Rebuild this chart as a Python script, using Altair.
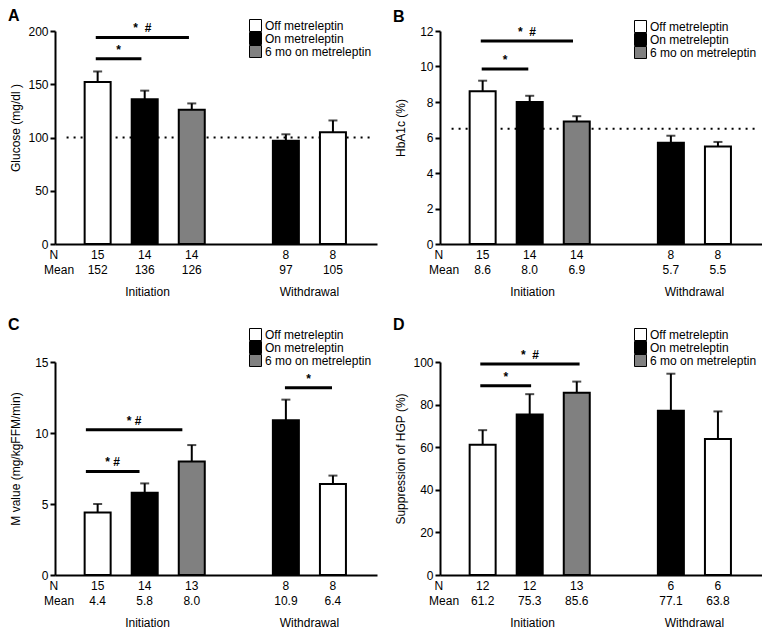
import altair as alt
import pandas as pd

# ---------------- data ----------------
GROUPS = ["Off metreleptin", "On metreleptin", "6 mo on metreleptin"]
FILLS = ["white", "black", "#808080"]

bar_group = ["Off metreleptin", "On metreleptin", "6 mo on metreleptin",
             "On metreleptin", "Off metreleptin"]
bar_phase = ["Initiation", "Initiation", "Initiation", "Withdrawal", "Withdrawal"]
phases = ["Initiation", "Withdrawal"]

glucose_mean = [152, 136, 126, 97, 105]
glucose_top = [162, 144, 132, 103, 116]
glucose_n = [15, 14, 14, 8, 8]

hba1c_mean = [8.6, 8.0, 6.9, 5.7, 5.5]
hba1c_top = [9.2, 8.35, 7.2, 6.1, 5.75]
hba1c_n = [15, 14, 14, 8, 8]

mvalue_mean = [4.4, 5.8, 8.0, 10.9, 6.4]
mvalue_top = [5.0, 6.45, 9.15, 12.35, 7.0]
mvalue_n = [15, 14, 13, 8, 8]

hgp_mean = [61.2, 75.3, 85.6, 77.1, 63.8]
hgp_top = [68.0, 84.9, 90.8, 94.5, 76.8]
hgp_n = [12, 12, 13, 6, 6]

SP2 = "\u00a0\u00a0"
SP1 = "\u00a0"
# significance brackets: (start, end, height, label)
glucose_sig = [(-0.04, 0.93, 174, "*"), (-0.04, 1.94, 194, "*" + SP2 + "#")]
hba1c_sig = [(-0.02, 0.97, 9.86, "*"), (-0.04, 1.92, 11.44, "*" + SP2 + "#")]
mvalue_sig = [(-0.25, 0.89, 7.29, "*" + SP1 + "#"), (-0.25, 1.8, 10.23, "*" + SP1 + "#"),
              (3.98, 4.98, 13.18, "*")]
hgp_sig = [(-0.05, 1.03, 88.8, "*"), (-0.05, 2.06, 99.1, "*" + SP2 + "#")]

# ---------------- layout helpers ----------------
X_DOMAIN = [-0.8, 5.83]
W, H = 322, 213
FONT = "Liberation Sans"


def slots_for(phase_list):
    out, pos, prev = [], -1, None
    for ph in phase_list:
        if prev is not None and ph != prev:
            pos += 1  # empty slot between phases
        pos += 1
        out.append(pos)
        prev = ph
    return out


SLOTS = slots_for(bar_phase)


def panel(letter, ytitle, ymax, ystep, means, tops, ns, fmt, brackets, ref_level, legend_y):
    xs = alt.Scale(domain=X_DOMAIN, nice=False, zero=False)
    xa = alt.Axis(labels=False, ticks=False, title=None, grid=False,
                  domainColor="black", domainWidth=2)
    ys = alt.Scale(domain=[0, ymax], nice=False, zero=False)
    ticks = [round(i * ystep, 6) for i in range(int(round(ymax / ystep)) + 1)]
    ya = alt.Axis(values=ticks, title=ytitle, grid=False, domainColor="black",
                  domainWidth=2, tickColor="black", tickWidth=2, tickSize=5,
                  labelFontSize=12, labelColor="black", labelPadding=2,
                  labelFont=FONT, titleFont=FONT,
                  titleFontSize=12, titleFontWeight="normal", titleColor="black",
                  titleX=-33, titleY=H / 2 - 10, labelFlush=False, format="d")

    def X(f):
        return alt.X(f, type="quantitative", scale=xs, axis=xa)

    def Y(f):
        return alt.Y(f, type="quantitative", scale=ys, axis=ya)

    bars_df = pd.DataFrame({
        "slot": SLOTS, "group": bar_group, "mean": means, "top": tops,
        "n": [str(v) for v in ns], "m": [fmt.format(v) for v in means],
    })

    layers = []
    if ref_level is not None:
        ref_df = pd.DataFrame({"x": [-0.66], "x2": [X_DOMAIN[1]], "y": [ref_level]})
        layers.append(alt.Chart(ref_df).mark_rule(
            color="black", strokeWidth=2, strokeDash=[2, 5]
        ).encode(x=X("x"), x2="x2", y=Y("y")))

    layers.append(alt.Chart(bars_df).mark_bar(size=26, stroke="black", strokeWidth=2).encode(
        x=X("slot"), y=Y("mean"),
        fill=alt.Fill("group:N", scale=alt.Scale(domain=GROUPS, range=FILLS),
                      legend=alt.Legend(orient="none", legendX=194, legendY=legend_y,
                                        title=None, symbolType="square", symbolSize=144,
                                        symbolStrokeColor="black", symbolStrokeWidth=1,
                                        labelFontSize=12, labelColor="black",
                                        labelFont=FONT, rowPadding=0, labelOffset=3,
                                        padding=0, clipHeight=13)),
    ))
    layers.append(alt.Chart(bars_df).mark_rule(color="black", strokeWidth=2).encode(
        x=X("slot"), y=Y("mean"), y2="top"))
    layers.append(alt.Chart(bars_df).mark_tick(
        orient="horizontal", size=9, thickness=2, color="black"
    ).encode(x=X("slot"), y=Y("top")))

    br_df = pd.DataFrame({
        "x": [b[0] for b in brackets], "x2": [b[1] for b in brackets],
        "xm": [(b[0] + b[1]) / 2 for b in brackets],
        "y": [b[2] for b in brackets], "label": [b[3] for b in brackets],
    })
    layers.append(alt.Chart(br_df).mark_rule(color="black", strokeWidth=3).encode(
        x=X("x"), x2="x2", y=Y("y")))
    layers.append(alt.Chart(br_df).mark_text(
        fontSize=12, fontWeight="bold", baseline="bottom", dy=-2, color="black", font=FONT
    ).encode(x=X("xm"), y=Y("y"), text="label:N"))

    # table rows under the axis (N, Mean) and phase labels
    y_n, y_mean, y_phase = -0.052 * ymax, -0.122 * ymax, -0.225 * ymax
    rows_df = pd.DataFrame({
        "slot": SLOTS * 2,
        "y": [y_n] * len(SLOTS) + [y_mean] * len(SLOTS),
        "t": list(bars_df["n"]) + list(bars_df["m"]),
    })
    layers.append(alt.Chart(rows_df).mark_text(
        fontSize=12, baseline="middle", color="black", font=FONT
    ).encode(x=X("slot"), y=Y("y"), text="t:N"))

    phase_pos = []
    for ph in phases:
        s = [SLOTS[i] for i, p in enumerate(bar_phase) if p == ph]
        phase_pos.append(sum(s) / len(s) + (0.06 if len(s) == 3 else 0))
    head_df = pd.DataFrame({
        "x": [-0.93, -0.82] + phase_pos,
        "y": [y_n, y_mean] + [y_phase] * len(phases),
        "t": ["N", "Mean"] + phases,
    })
    layers.append(alt.Chart(head_df).mark_text(
        fontSize=12, baseline="middle", color="black", font=FONT
    ).encode(x=X("x"), y=Y("y"), text="t:N"))

    return alt.layer(*layers).properties(
        width=W, height=H,
        title=alt.TitleParams(text=letter, anchor="start", frame="group", dx=-47, dy=9,
                              fontSize=16, fontWeight="bold", color="black", font=FONT),
    )


pA = panel("A", "Glucose (mg/dl )", 200, 50, glucose_mean, glucose_top, glucose_n,
           "{:.0f}", glucose_sig, 100, -12)
pB = panel("B", "HbA1c (%)", 12, 2, hba1c_mean, hba1c_top, hba1c_n,
           "{:.1f}", hba1c_sig, 6.5, -11)
pC = panel("C", "M value (mg/kgFFM/min)", 15, 5, mvalue_mean, mvalue_top, mvalue_n,
           "{:.1f}", mvalue_sig, None, -34)
pD = panel("D", "Suppression of HGP (%)", 100, 20, hgp_mean, hgp_top, hgp_n,
           "{:.1f}", hgp_sig, None, -34)

chart = alt.concat(
    pA, pB, pC, pD, columns=2, spacing={"row": 118, "column": 63}, bounds="flush"
).resolve_scale(fill="independent").resolve_legend(fill="independent").properties(
    padding=0
).configure(font=FONT).configure_view(stroke=None)

chart.save("out.html", embed_options={"renderer": "svg", "actions": False})
